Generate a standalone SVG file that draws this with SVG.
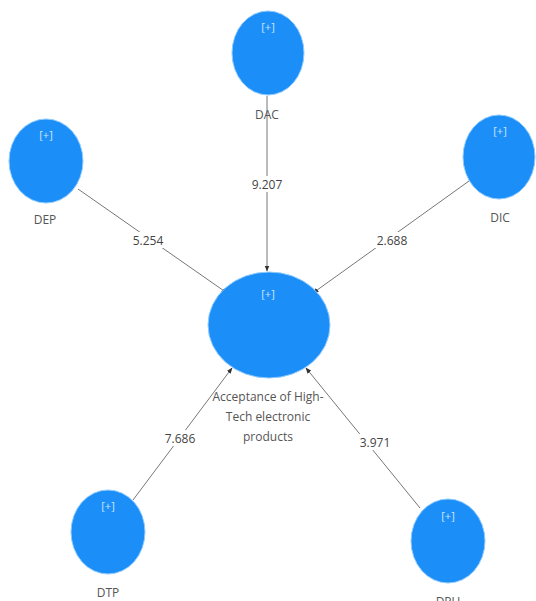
<svg xmlns="http://www.w3.org/2000/svg" width="536" height="601" viewBox="0 0 536 601">
  <defs>
    <marker id="arrow" viewBox="0 0 10 10" refX="9" refY="5" markerWidth="6" markerHeight="6" markerUnits="userSpaceOnUse" orient="auto">
      <path d="M0,1 L10,5 L0,9 z" fill="#333"/>
    </marker>
    <style>
      .node { fill: #1b8ef7; stroke: #8fcbff; stroke-width: 1; }
      .plus { font-family: "Open Sans", "Liberation Sans", sans-serif; font-size: 11px; fill: #cfe6ff; text-anchor: middle; }
      .name { font-family: "Open Sans", "Liberation Sans", sans-serif; font-size: 12px; fill: #555; text-anchor: middle; }
      .edge { stroke: #777; stroke-width: 1; fill: none; marker-end: url(#arrow); }
      .wlab { fill: #fff; }
      .val { font-family: "Open Sans", "Liberation Sans", sans-serif; font-size: 12px; fill: #444; text-anchor: middle; }
    </style>
  </defs>
  <rect width="536" height="601" fill="#fff"/>

  <!-- paths -->
  <g id="connectors">
    <line class="edge" x1="267" y1="96" x2="267" y2="271"/>
    <line class="edge" x1="78" y1="189" x2="227" y2="293"/>
    <line class="edge" x1="469" y1="181" x2="313" y2="293"/>
    <line class="edge" x1="133" y1="500" x2="232" y2="368"/>
    <line class="edge" x1="420" y1="508" x2="306" y2="368"/>
    <rect class="wlab" x="248" y="176" width="38" height="16"/>
    <text class="val" x="267" y="189">9.207</text>
    <rect class="wlab" x="129" y="232" width="38" height="16"/>
    <text class="val" x="148" y="245">5.254</text>
    <rect class="wlab" x="373" y="232" width="38" height="16"/>
    <text class="val" x="392" y="245">2.688</text>
    <rect class="wlab" x="161" y="430" width="38" height="16"/>
    <text class="val" x="180" y="443">7.686</text>
    <rect class="wlab" x="356" y="434" width="38" height="16"/>
    <text class="val" x="375" y="447">3.971</text>
  </g>

  <g id="DAC">
    <ellipse class="node" cx="268" cy="53" rx="36" ry="42"/>
    <text class="plus" x="268" y="31">[+]</text>
    <text class="name" x="267" y="119">DAC</text>
  </g>
  <g id="DEP">
    <ellipse class="node" cx="46" cy="161" rx="37" ry="42"/>
    <text class="plus" x="46" y="139">[+]</text>
    <text class="name" x="45" y="224">DEP</text>
  </g>
  <g id="DIC">
    <ellipse class="node" cx="499" cy="157" rx="36" ry="42"/>
    <text class="plus" x="500" y="135">[+]</text>
    <text class="name" x="500" y="222">DIC</text>
  </g>
  <g id="Acceptance">
    <ellipse class="node" cx="269" cy="325" rx="61" ry="53"/>
    <text class="plus" x="268" y="298">[+]</text>
    <text class="name" x="268" y="401">Acceptance of High-</text>
    <text class="name" x="268" y="421">Tech electronic</text>
    <text class="name" x="268" y="441">products</text>
  </g>
  <g id="DTP">
    <ellipse class="node" cx="108" cy="532" rx="37" ry="42"/>
    <text class="plus" x="108" y="510">[+]</text>
    <text class="name" x="108" y="597">DTP</text>
  </g>
  <g id="DPU">
    <ellipse class="node" cx="448" cy="541" rx="37" ry="42"/>
    <text class="plus" x="448" y="520">[+]</text>
    <text class="name" x="448" y="606">DPU</text>
  </g>
</svg>
